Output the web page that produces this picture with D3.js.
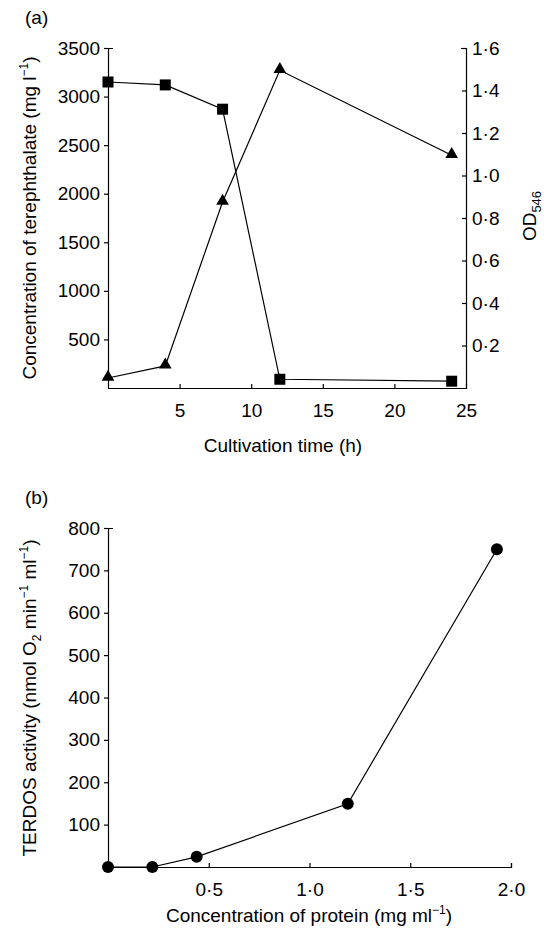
<!DOCTYPE html>
<html>
<head>
<meta charset="utf-8">
<script src="https://cdn.jsdelivr.net/npm/d3@7"></script>
<style>
body { margin:0; background:#fff; }
svg { font-family: "Liberation Sans", Arial, Helvetica, sans-serif; }
.axis path, .axis line { stroke:#000; stroke-width:1.2; }
.axis text { font-size:19px; fill:#000; }
</style>
</head>
<body>
<div class="chart"></div>
<script>
// panel (a): cultivation
let hours = [0, 4, 8, 12, 24];
let terephthalate = [3150, 3120, 2870, 90, 70];
let od546 = [0.047, 0.104, 0.875, 1.495, 1.095];
let aLeftTicks = [500, 1000, 1500, 2000, 2500, 3000, 3500];
let aRightTicks = [0.2, 0.4, 0.6, 0.8, 1.0, 1.2, 1.4, 1.6];
let aXTicks = [5, 10, 15, 20, 25];

// panel (b): TERDOS activity
let protein = [0, 0.22, 0.44, 1.19, 1.93];
let activity = [0, 0, 24, 149, 750];
let bYTicks = [100, 200, 300, 400, 500, 600, 700, 800];
let bXTicks = [0.5, 1.0, 1.5, 2.0];

const fmt = d => d3.format(".1f")(d).replace(".", "\u00b7");

const svg = d3.select('.chart').append('svg')
	.attr("width", 544)
	.attr("height", 937);

// ---------- panel (a)
let xA = d3.scaleLinear().domain([0, 25]).range([108, 466]);
let yL = d3.scaleLinear().domain([0, 3500]).range([388, 48]);
let yR = d3.scaleLinear().domain([0, 1.6]).range([388, 48]);

svg.append("g")
	.attr("class", "axis")
	.attr("transform", "translate(0,388)")
	.call(d3.axisBottom(xA).tickValues(aXTicks).tickFormat(d3.format("d"))
		.tickSizeInner(-4).tickSizeOuter(0).tickPadding(16));

svg.append("g")
	.attr("class", "axis")
	.attr("transform", "translate(108,0)")
	.call(d3.axisLeft(yL).tickValues(aLeftTicks).tickFormat(d3.format("d"))
		.tickSizeInner(4).tickSizeOuter(-5).tickPadding(4));

svg.append("g")
	.attr("class", "axis")
	.attr("transform", "translate(466,0)")
	.call(d3.axisRight(yR).tickValues(aRightTicks).tickFormat(fmt)
		.tickSizeInner(-4).tickSizeOuter(-5).tickPadding(6));

let lineT = d3.line().x((d, i) => xA(hours[i])).y(d => yL(d));
let lineO = d3.line().x((d, i) => xA(hours[i])).y(d => yR(d));

svg.append("path").attr("d", lineT(terephthalate))
	.attr("fill", "none").attr("stroke", "#000").attr("stroke-width", 1.2);
svg.append("path").attr("d", lineO(od546))
	.attr("fill", "none").attr("stroke", "#000").attr("stroke-width", 1.2);

svg.selectAll(".sq").data(terephthalate).enter()
	.append("rect")
	.attr("x", (d, i) => xA(hours[i]) - 5.5)
	.attr("y", d => yL(d) - 5.5)
	.attr("width", 11).attr("height", 11)
	.attr("fill", "#000");

let tri = d3.symbol().type(d3.symbolTriangle).size(70);
svg.selectAll(".tri").data(od546).enter()
	.append("path")
	.attr("d", tri)
	.attr("transform", (d, i) => `translate(${xA(hours[i])},${yR(d) - 1})`)
	.attr("fill", "#000");

svg.append("text").attr("x", 25).attr("y", 24)
	.attr("font-size", 19).text("(a)");

svg.append("text").attr("x", 283).attr("y", 452)
	.attr("font-size", 19).attr("text-anchor", "middle")
	.text("Cultivation time (h)");

let la = svg.append("text")
	.attr("transform", "translate(36,218) rotate(-90)")
	.attr("font-size", 19).attr("text-anchor", "middle");
la.append("tspan").text("Concentration of terephthalate (mg l");
la.append("tspan").attr("font-size", 12).attr("dy", -8).text("\u22121");
la.append("tspan").attr("dy", 8).text(")");

let ra = svg.append("text")
	.attr("transform", "translate(536,216) rotate(-90)")
	.attr("font-size", 19).attr("text-anchor", "middle");
ra.append("tspan").text("OD");
ra.append("tspan").attr("font-size", 13).attr("dy", 5).text("546");

// ---------- panel (b)
let xB = d3.scaleLinear().domain([0, 2.0]).range([108, 511]);
let yB = d3.scaleLinear().domain([0, 800]).range([867, 528]);

svg.append("g")
	.attr("class", "axis")
	.attr("transform", "translate(0,867)")
	.call(d3.axisBottom(xB).tickValues(bXTicks).tickFormat(fmt)
		.tickSizeInner(-4).tickSizeOuter(-4).tickPadding(16));

svg.append("g")
	.attr("class", "axis")
	.attr("transform", "translate(108,0)")
	.call(d3.axisLeft(yB).tickValues(bYTicks)
		.tickSizeInner(4).tickSizeOuter(-5).tickPadding(4));

let lineB = d3.line().x((d, i) => xB(protein[i])).y(d => yB(d));
svg.append("path").attr("d", lineB(activity))
	.attr("fill", "none").attr("stroke", "#000").attr("stroke-width", 1.2);

svg.selectAll(".dot").data(activity).enter()
	.append("circle")
	.attr("cx", (d, i) => xB(protein[i]))
	.attr("cy", d => yB(d))
	.attr("r", 6)
	.attr("fill", "#000");

svg.append("text").attr("x", 25).attr("y", 504)
	.attr("font-size", 19).text("(b)");

let bx = svg.append("text").attr("x", 309).attr("y", 922)
	.attr("font-size", 19).attr("text-anchor", "middle");
bx.append("tspan").text("Concentration of protein (mg ml");
bx.append("tspan").attr("font-size", 12).attr("dy", -8).text("\u22121");
bx.append("tspan").attr("dy", 8).text(")");

let by = svg.append("text")
	.attr("transform", "translate(36,698) rotate(-90)")
	.attr("font-size", 19).attr("text-anchor", "middle");
by.append("tspan").text("TERDOS activity (nmol O");
by.append("tspan").attr("font-size", 12).attr("dy", 5).text("2");
by.append("tspan").attr("dy", -5).text(" min");
by.append("tspan").attr("font-size", 12).attr("dy", -8).text("\u22121");
by.append("tspan").attr("dy", 8).text(" ml");
by.append("tspan").attr("font-size", 12).attr("dy", -8).text("\u22121");
by.append("tspan").attr("dy", 8).text(")");
</script>
</body>
</html>
